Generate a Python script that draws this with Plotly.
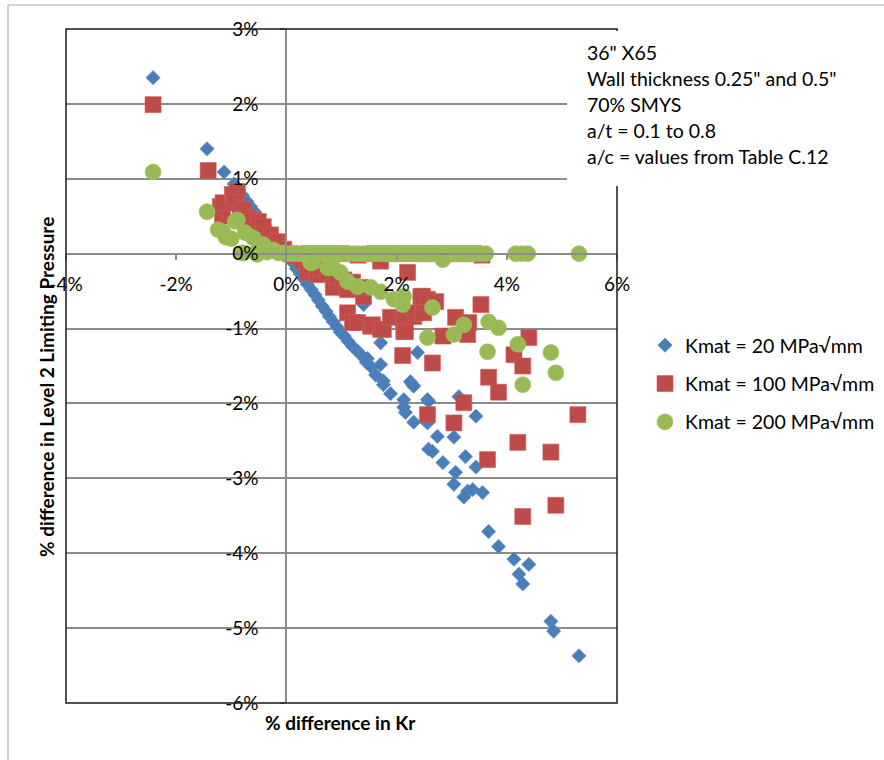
import plotly.graph_objects as go

# ---------------- data (percent units) ----------------
k20_x = [-2.42, -1.44, -1.13, -0.95, -0.87, -0.80, -0.72, -0.65, -0.58, -0.50, -0.43, -0.36,
         -0.29, -0.22, -0.15, -0.08, 0.00, 0.05, 0.12, 0.18, 0.25, 0.32, 0.38, 0.45, 0.52,
         0.58, 0.65, 0.72, 0.78, 0.85, 0.92, 0.98, 1.05, 1.12, 1.20, 1.29, 1.35, 1.47, 1.45,
         1.55, 1.62, 1.71, 1.71, 1.40, 1.76, 1.76, 1.89, 2.13, 2.16, 2.13, 2.25, 2.29, 2.31,
         2.38, 2.31, 2.56, 2.58, 2.56, 2.74, 2.58, 2.65, 3.04, 2.84, 3.07, 3.04, 3.25, 3.44,
         3.13, 3.44, 3.29, 3.38, 3.22, 3.56, 3.67, 3.85, 4.13, 4.40, 4.22, 4.29, 4.80, 4.85, 5.31]
k20_y = [2.35, 1.40, 1.09, 0.93, 0.85, 0.78, 0.70, 0.63, 0.56, 0.48, 0.41, 0.34,
         0.28, 0.21, 0.14, 0.08, 0.01, -0.05, -0.12, -0.20, -0.27, -0.34, -0.41, -0.48, -0.55,
         -0.62, -0.70, -0.77, -0.84, -0.91, -0.98, -1.05, -1.10, -1.17, -1.24, -1.30, -1.35, -1.40, -1.45,
         -1.52, -1.62, -1.48, -1.19, -0.68, -1.70, -1.75, -1.87, -1.95, -2.12, -2.05, -1.71, -1.75, -2.25,
         -1.32, -1.77, -1.95, -1.97, -2.26, -2.44, -2.61, -2.64, -2.45, -2.79, -2.92, -3.08, -2.71, -2.85,
         -1.91, -2.17, -3.17, -3.15, -3.25, -3.19, -3.71, -3.91, -4.08, -4.15, -4.28, -4.41, -4.91, -5.04, -5.37]

k100_x = [-2.42, -1.42, -1.20, -1.16, -1.15, -0.98, -0.96, -0.89, -0.93, -0.84, -0.78, -0.69,
          -0.60, -0.51, -0.44, -0.42, -0.29, -0.15, -0.05,
          0.07, 0.15, 0.25, 0.30, 0.38, 0.45, 0.56, 0.62, 0.75, 0.85, 0.90, 1.04, 1.11, 1.20,
          1.40, 1.35, 1.71, 2.20,
          0.40, 0.70, 1.00, 1.30, 1.60, 1.90, 2.20, 2.50, 2.80, 3.10, 3.40, 3.55,
          1.11, 1.20, 1.29, 1.53, 1.56, 1.71, 1.76, 1.89, 2.13, 2.13, 2.16, 2.31, 2.35, 2.44,
          2.47, 2.56, 2.71, 2.49, 2.11, 2.65, 2.84, 3.07, 3.31, 3.29, 3.53, 4.13, 4.40, 4.29,
          3.67, 3.85, 3.22, 2.56, 3.04, 5.29, 4.20, 4.80, 3.65, 4.29, 4.89]
k100_y = [1.99, 1.11, 0.63, 0.50, 0.68, 0.79, 0.76, 0.83, 0.68, 0.55, 0.59, 0.48,
          0.45, 0.43, 0.32, 0.36, 0.25, 0.16, 0.06,
          0.00, -0.03, -0.04, -0.10, -0.25, -0.15, -0.28, -0.20, -0.25, -0.45, -0.30, -0.35, -0.48, -0.38,
          -0.57, -0.45, -0.10, -0.25,
          0.00, 0.00, 0.00, -0.02, 0.00, 0.00, 0.00, 0.00, 0.00, 0.00, 0.00, -0.02,
          -0.79, -0.92, -0.92, -0.97, -0.95, -1.01, -1.01, -0.85, -0.88, -1.04, -1.04, -0.84, -0.79, -0.57,
          -0.57, -0.61, -0.64, -0.79, -1.36, -1.46, -1.10, -0.85, -0.92, -1.08, -0.68, -1.35, -1.12, -1.50,
          -1.65, -1.85, -1.99, -2.15, -2.26, -2.15, -2.52, -2.65, -2.75, -3.51, -3.36]

k200_x = [-2.42, -1.44, -1.24, -1.15, -1.10, -1.00, -0.93, -0.89, -0.75, -0.60, -0.42, -0.24,
          -0.80, -0.78, -0.56, -0.53, -0.35, -0.15, -0.05,
          0.00, 0.10, 0.20, 0.30, 0.40, 0.50, 0.60, 0.70, 0.80, 0.90, 1.00, 1.10, 1.20, 1.30,
          1.40, 1.50, 1.60, 1.70, 1.80, 1.89, 2.02, 2.12, 2.22, 2.32, 2.42, 2.52, 2.62, 2.72,
          2.82, 2.92, 3.02, 3.12, 3.22, 3.32, 3.42, 3.52, 3.62, 4.16, 4.27, 4.38, 5.31,
          0.44, 0.47, 0.75, 2.84,
          0.85, 0.98, 1.11, 1.29, 1.53, 1.71, 1.95, 2.13, 2.11, 2.65, 2.56, 3.04, 3.22, 3.67,
          3.85, 4.20, 3.65, 4.80, 4.89, 4.29]
k200_y = [1.09, 0.56, 0.32, 0.29, 0.22, 0.20, 0.43, 0.45, 0.28, 0.21, 0.12, 0.05,
          0.01, 0.01, 0.01, -0.01, 0.02, 0.01, 0.01,
          0.00, 0.00, 0.00, 0.00, 0.00, 0.00, 0.00, 0.00, 0.00, 0.00, 0.00, 0.00, 0.00, 0.00,
          0.00, 0.00, 0.00, 0.00, 0.00, 0.00, 0.00, 0.00, 0.00, 0.00, 0.00, 0.00, 0.00, 0.00,
          0.00, 0.00, 0.00, 0.00, 0.00, 0.00, 0.00, 0.00, 0.00, 0.00, 0.00, 0.00, 0.00,
          -0.12, -0.12, -0.19, -0.08,
          -0.19, -0.25, -0.37, -0.44, -0.45, -0.51, -0.61, -0.57, -0.68, -0.72, -1.12, -1.08, -0.95, -0.91,
          -0.99, -1.21, -1.31, -1.32, -1.59, -1.75]

x_tickvals = [-4, -2, 0, 2, 4, 6]
x_ticktext = ["-4%", "-2%", "0%", "2%", "4%", "6%"]
y_tickvals = [-6, -5, -4, -3, -2, -1, 0, 1, 2, 3]
y_ticktext = ["-6%", "-5%", "-4%", "-3%", "-2%", "-1%", "0%", "1%", "2%", "3%"]

series_names = ["Kmat = 20 MPa\u221amm", "Kmat = 100 MPa\u221amm", "Kmat = 200 MPa\u221amm"]
note_lines = ['36" X65', 'Wall thickness 0.25" and 0.5"', '70% SMYS',
              'a/t = 0.1 to 0.8', 'a/c = values from Table C.12']

FONT = "Lato"
W, H = 884, 760
L, R, T, B = 66, 267, 29, 57
PW, PH = W - L - R, H - T - B


def px_x(p):
    return (p - L) / PW


def px_y(p):
    return (H - B - p) / PH


fig = go.Figure()
fig.add_trace(go.Scatter(x=k20_x, y=k20_y, mode="markers", name=series_names[0],
                         legendgroup="a",
                         marker=dict(symbol="diamond", size=11, color="#4A7EBB",
                                     line=dict(width=0.6, color="#5A8AC6"))))
fig.add_trace(go.Scatter(x=k100_x, y=k100_y, mode="markers", name=series_names[1],
                         legendgroup="b",
                         marker=dict(symbol="square", size=16, color="#BE4B48",
                                     line=dict(width=0.6, color="#C9605D"))))
fig.add_trace(go.Scatter(x=k200_x, y=k200_y, mode="markers", name=series_names[2],
                         legendgroup="c",
                         marker=dict(symbol="circle", size=16, color="#98B954",
                                     line=dict(width=0.6, color="#A3C263"))))

shapes = [
    # outer chart border
    dict(type="rect", xref="paper", yref="paper", x0=px_x(8), x1=px_x(900), y0=px_y(780), y1=px_y(5),
         line=dict(color="#A6A6A6", width=1), layer="below"),
    # plot area border
    dict(type="rect", xref="paper", yref="paper", x0=0, x1=1, y0=0, y1=1,
         line=dict(color="#1A1A1A", width=1.5), layer="above"),
    # white text box
    dict(type="rect", xref="paper", yref="paper", x0=px_x(567), x1=px_x(900), y0=px_y(186), y1=px_y(31),
         line=dict(width=0), fillcolor="white", layer="above"),
]

TITLE_SIZE = 19
annotations = [
    dict(text="<b>% difference in Level 2 Limiting Pressure</b>", textangle=-90,
         xref="paper", yref="paper", x=px_x(46), y=px_y(387), showarrow=False,
         font=dict(family=FONT, size=TITLE_SIZE, color="black"), xanchor="center", yanchor="middle"),
    dict(text="<b>% difference in Kr</b>",
         xref="paper", yref="paper", x=px_x(340), y=px_y(722), showarrow=False,
         font=dict(family=FONT, size=TITLE_SIZE, color="black"), xanchor="center", yanchor="middle"),
]
for i, line in enumerate(note_lines):
    annotations.append(dict(text=line, xref="paper", yref="paper", x=px_x(585), y=px_y(52 + 26.2 * i),
                            showarrow=False, xanchor="left", yanchor="middle",
                            font=dict(family=FONT, size=19.5, color="black")))

TICK_SIZE = 19
fig.update_layout(
    width=W, height=H,
    margin=dict(l=L, r=R, t=T, b=B, autoexpand=False),
    paper_bgcolor="white", plot_bgcolor="white",
    font=dict(family=FONT, size=17, color="black"),
    xaxis=dict(range=[-4, 6], tickvals=x_tickvals, ticktext=x_ticktext,
               anchor="free", position=px_y(254), side="bottom",
               showgrid=False, zeroline=False, automargin=False,
               showline=True, linecolor="#8C8C8C", linewidth=1.5,
               ticks="outside", ticklen=5, tickcolor="#8C8C8C", tickwidth=1.5,
               ticklabelstandoff=8,
               tickfont=dict(family=FONT, size=TICK_SIZE, color="black")),
    yaxis=dict(range=[-6, 3], tickvals=y_tickvals, ticktext=y_ticktext,
               anchor="free", position=px_x(286), side="left",
               showgrid=True, gridcolor="#8C8C8C", gridwidth=1.5, zeroline=False, automargin=False,
               showline=True, linecolor="#8C8C8C", linewidth=1.5,
               ticks="outside", ticklen=5, tickcolor="#8C8C8C", tickwidth=1.5,
               ticklabelstandoff=18,
               tickfont=dict(family=FONT, size=TICK_SIZE, color="black")),
    showlegend=True,
    legend=dict(x=px_x(645), y=px_y(326), xanchor="left", yanchor="top",
                bgcolor="rgba(0,0,0,0)", borderwidth=0, tracegroupgap=10,
                font=dict(family=FONT, size=19.5, color="black")),
    shapes=shapes,
    annotations=annotations,
)

fig.write_html("out.html")
